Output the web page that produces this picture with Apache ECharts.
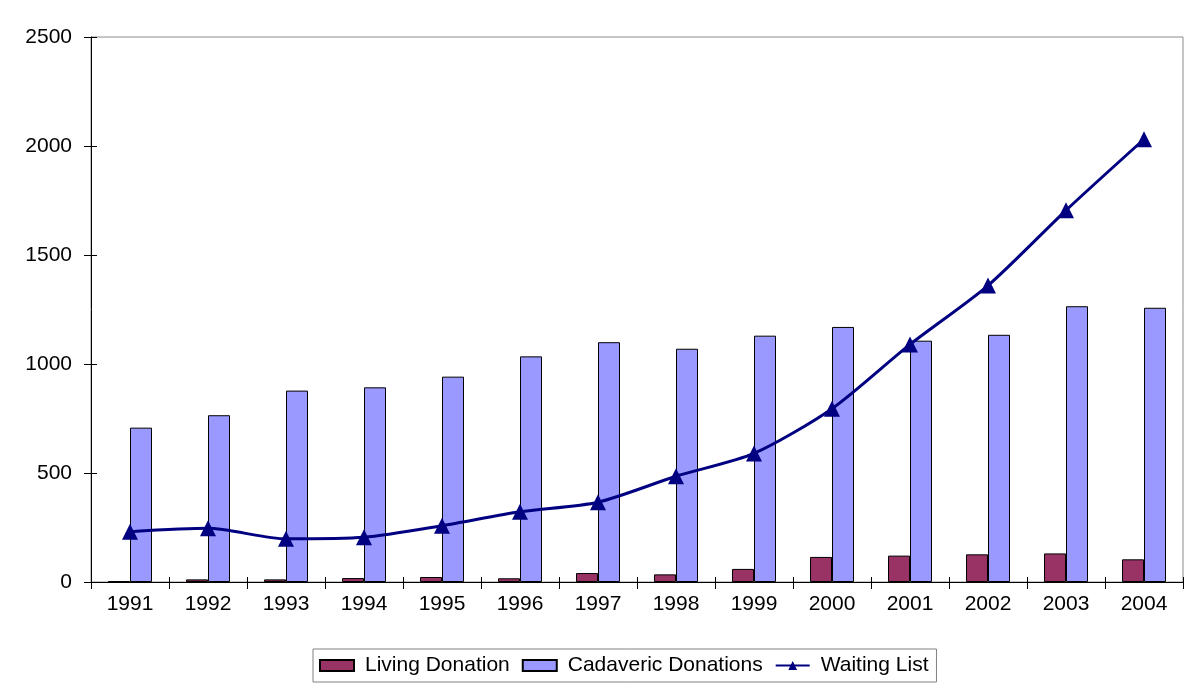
<!DOCTYPE html>
<html>
<head>
<meta charset="utf-8">
<script src="https://cdn.jsdelivr.net/npm/echarts@6/dist/echarts.min.js"></script>
<style>
  html, body { margin: 0; padding: 0; background: #fff; }
  #chart { width: 1200px; height: 692px; }
</style>
</head>
<body>
<div id="chart"></div>
<script>
// categories and values
const years = ['1991', '1992', '1993', '1994', '1995', '1996', '1997', '1998', '1999', '2000', '2001', '2002', '2003', '2004']
const livingDonation = [3, 12, 12, 18, 23, 17, 41, 35, 60, 115, 121, 127, 131, 104]
const cadavericDonations = [708, 765, 878, 893, 942, 1035, 1100, 1070, 1130, 1170, 1107, 1134, 1265, 1258]
const waitingList = [231, 246, 198, 205, 258, 322, 366, 485, 590, 795, 1090, 1360, 1705, 2031]
const yTicks = { min: 0, max: 2500, interval: 500 }

const font = 'Liberation Sans, Arial, sans-serif'
const chart = echarts.init(document.getElementById('chart'))

const option = {
  backgroundColor: '#fff',
  animation: false,
  grid: {
    left: 91,
    right: 17,
    top: 37,
    bottom: 110,
    show: true,
    borderColor: '#8c8c8c',
    borderWidth: 1
  },
  legend: {
    bottom: 10,
    left: 313,
    padding: [6, 8, 6, 6],
    borderColor: '#808080',
    borderWidth: 1,
    itemGap: 12,
    itemWidth: 34,
    itemHeight: 11,
    textStyle: { fontFamily: font, fontSize: 21, color: '#000', padding: [0, 0, 0, 6] },
    data: [
      { name: 'Living Donation', icon: 'rect' },
      { name: 'Cadaveric Donations', icon: 'rect' },
      { name: 'Waiting List' }
    ]
  },
  xAxis: [
    {
      type: 'category',
      data: years,
      axisLine: { lineStyle: { color: '#000', width: 1 } },
      axisTick: { show: true, length: 7, lineStyle: { color: '#000' } },
      axisLabel: { fontFamily: font, fontSize: 21, color: '#000', margin: 12 }
    },
    {
      type: 'category',
      data: years,
      position: 'bottom',
      axisLine: { show: false },
      axisTick: { show: true, inside: true, length: 5, lineStyle: { color: '#000' } },
      axisLabel: { show: false }
    }
  ],
  yAxis: [
    {
      type: 'value',
      min: yTicks.min,
      max: yTicks.max,
      interval: yTicks.interval,
      splitLine: { show: false },
      axisLine: { show: true, lineStyle: { color: '#000', width: 1 } },
      axisTick: { show: true, length: 7, lineStyle: { color: '#000' } },
      axisLabel: {
        fontFamily: font,
        fontSize: 21,
        color: '#000',
        margin: 19,
        formatter: v => String(v)
      }
    },
    {
      type: 'value',
      position: 'left',
      min: yTicks.min,
      max: yTicks.max,
      interval: yTicks.interval,
      splitLine: { show: false },
      axisLine: { show: false },
      axisTick: { show: true, inside: true, length: 6, lineStyle: { color: '#000' } },
      axisLabel: { show: false }
    }
  ],
  series: [
    {
      name: 'Living Donation',
      type: 'bar',
      data: livingDonation,
      barWidth: 22,
      barGap: '0%',
      itemStyle: { color: '#993366', borderColor: '#000', borderWidth: 1 }
    },
    {
      name: 'Cadaveric Donations',
      type: 'bar',
      data: cadavericDonations,
      barWidth: 22,
      barGap: '0%',
      itemStyle: { color: '#9999ff', borderColor: '#000', borderWidth: 1 }
    },
    {
      name: 'Waiting List',
      type: 'line',
      data: waitingList,
      smooth: 0.25,
      symbol: 'triangle',
      symbolSize: 16,
      lineStyle: { color: '#000080', width: 3 },
      itemStyle: { color: '#000080' },
      z: 5
    }
  ]
}

chart.setOption(option)
</script>
</body>
</html>
